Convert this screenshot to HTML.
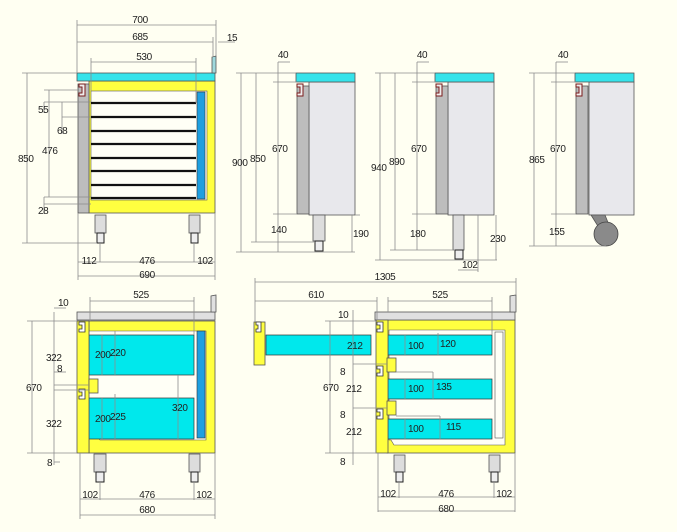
<!DOCTYPE html>
<html><head><meta charset="utf-8"><style>
html,body{margin:0;padding:0;background:#fffff2;}
svg{display:block}
text{font-family:"Liberation Sans",sans-serif;font-size:10px;fill:#222;letter-spacing:-0.4px}
.d{stroke:#8c8c8c;stroke-width:0.8;fill:none}
.o{stroke:#555;stroke-width:0.8}
</style></head><body>
<svg width="677" height="532" viewBox="0 0 677 532" xmlns="http://www.w3.org/2000/svg">
<rect width="677" height="532" fill="#fffff2"/>

<!-- ===== Drawing 1 (top-left) ===== -->
<rect x="89" y="81" width="126" height="132" fill="#ffff40" class="o"/>
<rect x="91" y="91" width="116" height="109" fill="#fffff6" stroke="#555" stroke-width="0.6"/>
<rect x="197" y="92" width="8" height="107" fill="#1e9fe0" stroke="#333" stroke-width="0.6"/>
<g stroke="#111" stroke-width="2.2">
<line x1="91" y1="103" x2="196" y2="103"/><line x1="91" y1="117" x2="196" y2="117"/>
<line x1="91" y1="131" x2="196" y2="131"/><line x1="91" y1="144" x2="196" y2="144"/>
<line x1="91" y1="158" x2="196" y2="158"/><line x1="91" y1="171" x2="196" y2="171"/>
<line x1="91" y1="185" x2="196" y2="185"/><line x1="91" y1="198" x2="196" y2="198"/>
</g>
<rect x="77" y="73" width="138" height="8" fill="#35e3ea" class="o"/>
<polygon points="212,73 212,57 216,56 216,73" fill="#9fd8dc" class="o"/>
<rect x="78" y="84" width="11" height="129" fill="#bdbdbd" class="o"/>
<path d="M79,84 h6 v12 h-6 v-3 h3 v-6 h-3z" fill="#eee" stroke="#7a1b1b" stroke-width="1"/>
<rect x="95" y="215" width="11" height="18" fill="#ddd" class="o"/><rect x="97" y="233" width="7" height="10" fill="#eee" stroke="#222" stroke-width="1"/>
<rect x="189" y="215" width="11" height="18" fill="#ddd" class="o"/><rect x="191" y="233" width="7" height="10" fill="#eee" stroke="#222" stroke-width="1"/>
<g class="d">
<line x1="77" y1="25" x2="216" y2="25"/><line x1="77" y1="20" x2="77" y2="73"/><line x1="216" y1="20" x2="216" y2="56"/>
<line x1="77" y1="42" x2="213" y2="42"/><line x1="213" y1="37" x2="213" y2="56"/><line x1="218" y1="42" x2="235" y2="42"/>
<line x1="91" y1="62" x2="196" y2="62"/><line x1="91" y1="58" x2="91" y2="91"/><line x1="196" y1="58" x2="196" y2="103"/>
<line x1="27" y1="73" x2="27" y2="243"/><line x1="22" y1="73" x2="77" y2="73"/><line x1="22" y1="243" x2="97" y2="243"/>
<line x1="49" y1="90" x2="49" y2="197"/><line x1="44" y1="90" x2="79" y2="90"/><line x1="44" y1="197" x2="91" y2="197"/>
<line x1="44" y1="102" x2="91" y2="102"/><line x1="44" y1="102" x2="44" y2="113"/>
<line x1="62" y1="102" x2="62" y2="134"/><line x1="62" y1="117" x2="91" y2="117"/>
<line x1="44" y1="204" x2="91" y2="204"/><line x1="44" y1="197" x2="44" y2="214"/>
<line x1="78" y1="213" x2="78" y2="280"/><line x1="215" y1="213" x2="215" y2="280"/>
<line x1="100" y1="243" x2="100" y2="262"/><line x1="194" y1="243" x2="194" y2="262"/>
<line x1="78" y1="262" x2="215" y2="262"/><line x1="78" y1="276" x2="215" y2="276"/>
</g>
<text x="140" y="23" text-anchor="middle">700</text>
<text x="140" y="40" text-anchor="middle">685</text>
<text x="232" y="41" text-anchor="middle">15</text>
<text x="144" y="60" text-anchor="middle">530</text>
<text x="18" y="162">850</text>
<text x="38" y="113">55</text>
<text x="57" y="134">68</text>
<text x="42" y="154">476</text>
<text x="38" y="214">28</text>
<text x="89" y="264" text-anchor="middle">112</text>
<text x="147" y="264" text-anchor="middle">476</text>
<text x="205" y="264" text-anchor="middle">102</text>
<text x="147" y="278" text-anchor="middle">690</text>

<!-- ===== Drawing 2 ===== -->
<rect x="309" y="82" width="46" height="133" fill="#e8e8ec" class="o"/>
<rect x="297" y="86" width="12" height="128" fill="#bdbdbd" class="o"/>
<path d="M297,84 h6 v12 h-6 v-3 h3 v-6 h-3z" fill="#eee" stroke="#7a1b1b" stroke-width="1"/>
<rect x="296" y="73" width="59" height="9" fill="#35e3ea" class="o"/>
<rect x="313" y="215" width="12" height="26" fill="#ddd" class="o"/><rect x="315" y="241" width="8" height="10" fill="#eee" stroke="#222" stroke-width="1"/>
<g class="d">
<line x1="241" y1="73" x2="241" y2="252"/><line x1="236" y1="73" x2="296" y2="73"/><line x1="236" y1="252" x2="355" y2="252"/>
<line x1="256" y1="73" x2="256" y2="242"/><line x1="251" y1="242" x2="315" y2="242"/>
<line x1="278" y1="82" x2="278" y2="252"/><line x1="273" y1="82" x2="297" y2="82"/><line x1="273" y1="214" x2="297" y2="214"/>
<line x1="278" y1="62" x2="278" y2="82"/><line x1="278" y1="62" x2="290" y2="62"/>
<line x1="352" y1="215" x2="352" y2="252"/><line x1="355" y1="215" x2="360" y2="215"/>
</g>
<text x="283" y="58" text-anchor="middle">40</text>
<text x="232" y="166">900</text>
<text x="250" y="162">850</text>
<text x="272" y="152">670</text>
<text x="271" y="233">140</text>
<text x="353" y="237">190</text>

<!-- ===== Drawing 3 ===== -->
<rect x="448" y="82" width="46" height="133" fill="#e8e8ec" class="o"/>
<rect x="436" y="86" width="12" height="128" fill="#bdbdbd" class="o"/>
<path d="M436,84 h6 v12 h-6 v-3 h3 v-6 h-3z" fill="#eee" stroke="#7a1b1b" stroke-width="1"/>
<rect x="435" y="73" width="59" height="9" fill="#35e3ea" class="o"/>
<rect x="453" y="215" width="11" height="35" fill="#ddd" class="o"/><rect x="455" y="250" width="8" height="9" fill="#eee" stroke="#222" stroke-width="1"/>
<g class="d">
<line x1="380" y1="73" x2="380" y2="260"/><line x1="375" y1="73" x2="435" y2="73"/><line x1="375" y1="260" x2="497" y2="260"/>
<line x1="395" y1="73" x2="395" y2="250"/><line x1="390" y1="250" x2="455" y2="250"/>
<line x1="417" y1="82" x2="417" y2="250"/><line x1="412" y1="82" x2="436" y2="82"/><line x1="412" y1="214" x2="436" y2="214"/>
<line x1="417" y1="62" x2="417" y2="82"/><line x1="417" y1="62" x2="429" y2="62"/>
<line x1="496" y1="215" x2="496" y2="260"/><line x1="478" y1="215" x2="478" y2="272"/>
<line x1="458" y1="270" x2="478" y2="270"/>
</g>
<text x="422" y="58" text-anchor="middle">40</text>
<text x="371" y="171">940</text>
<text x="389" y="165">890</text>
<text x="411" y="152">670</text>
<text x="410" y="237">180</text>
<text x="490" y="242">230</text>
<text x="462" y="268">102</text>

<!-- ===== Drawing 4 ===== -->
<rect x="589" y="82" width="45" height="133" fill="#e8e8ec" class="o"/>
<rect x="576" y="86" width="12" height="128" fill="#bdbdbd" class="o"/>
<path d="M576,84 h6 v12 h-6 v-3 h3 v-6 h-3z" fill="#eee" stroke="#7a1b1b" stroke-width="1"/>
<rect x="575" y="73" width="59" height="9" fill="#35e3ea" class="o"/>
<path d="M591,215 h14 l4,10 -8,6z" fill="#888" class="o"/>
<circle cx="606" cy="234" r="12" fill="#8a8a8a" stroke="#444" stroke-width="0.8"/>
<g class="d">
<line x1="534" y1="73" x2="534" y2="246"/><line x1="529" y1="73" x2="575" y2="73"/><line x1="529" y1="246" x2="606" y2="246"/>
<line x1="556" y1="82" x2="556" y2="246"/><line x1="551" y1="82" x2="576" y2="82"/><line x1="551" y1="214" x2="576" y2="214"/>
<line x1="556" y1="62" x2="556" y2="82"/><line x1="556" y1="62" x2="568" y2="62"/>
</g>
<text x="563" y="58" text-anchor="middle">40</text>
<text x="529" y="163">865</text>
<text x="550" y="152">670</text>
<text x="549" y="235">155</text>

<!-- ===== Drawing 5 (bottom-left) ===== -->
<rect x="89" y="321" width="126" height="132" fill="#ffff40" class="o"/>
<path d="M89,331 h117 v109 h-106 l-3,-4 h-8z" fill="#fffff6" stroke="#555" stroke-width="0.6"/>
<rect x="89" y="335" width="105" height="40" fill="#00e8ec" stroke="#333" stroke-width="0.7"/>
<rect x="89" y="398" width="105" height="41" fill="#00e8ec" stroke="#333" stroke-width="0.7"/>
<rect x="197" y="331" width="8" height="107" fill="#1e9fe0" stroke="#333" stroke-width="0.6"/>
<rect x="77" y="312" width="138" height="8" fill="#e0e0e0" class="o"/>
<polygon points="211,312 211,296 216,295 216,312" fill="#e0e0e0" class="o"/>
<rect x="77" y="321" width="12" height="132" fill="#ffff40" class="o"/>
<rect x="89" y="379" width="9" height="14" fill="#ffff40" class="o"/>
<path d="M79,322 h6 v10 h-6 v-3 h3 v-4 h-3z M79,389 h6 v10 h-6 v-3 h3 v-4 h-3z" fill="#fff" stroke="#333" stroke-width="0.8"/>
<rect x="94" y="454" width="12" height="18" fill="#ddd" class="o"/><rect x="96" y="472" width="8" height="10" fill="#eee" stroke="#222" stroke-width="1"/>
<rect x="189" y="454" width="11" height="18" fill="#ddd" class="o"/><rect x="191" y="472" width="7" height="10" fill="#eee" stroke="#222" stroke-width="1"/>
<g class="d">
<line x1="90" y1="301" x2="194" y2="301"/><line x1="90" y1="297" x2="90" y2="321"/><line x1="194" y1="297" x2="194" y2="335"/>
<line x1="32" y1="321" x2="32" y2="453"/><line x1="27" y1="321" x2="77" y2="321"/><line x1="27" y1="453" x2="77" y2="453"/>
<line x1="54" y1="312" x2="54" y2="465"/><line x1="54" y1="308" x2="66" y2="308"/><line x1="54" y1="390" x2="89" y2="390"/><line x1="54" y1="385" x2="89" y2="385"/>
<line x1="54" y1="372" x2="66" y2="372"/><line x1="54" y1="462" x2="60" y2="462"/>
<line x1="102" y1="335" x2="102" y2="375"/><line x1="115" y1="331" x2="115" y2="375"/>
<line x1="102" y1="398" x2="102" y2="439"/><line x1="115" y1="394" x2="115" y2="439"/>
<line x1="178" y1="375" x2="178" y2="439"/>
<line x1="80" y1="453" x2="80" y2="519"/><line x1="215" y1="453" x2="215" y2="519"/>
<line x1="100" y1="482" x2="100" y2="500"/><line x1="194" y1="482" x2="194" y2="500"/>
<line x1="80" y1="499" x2="215" y2="499"/><line x1="80" y1="515" x2="215" y2="515"/>
</g>
<text x="141" y="298" text-anchor="middle">525</text>
<text x="58" y="306">10</text>
<text x="26" y="391">670</text>
<text x="46" y="361">322</text>
<text x="57" y="372">8</text>
<text x="46" y="427">322</text>
<text x="47" y="466">8</text>
<text x="95" y="358">200</text><text x="110" y="356">220</text>
<text x="95" y="422">200</text><text x="110" y="420">225</text>
<text x="172" y="411">320</text>
<text x="90" y="498" text-anchor="middle">102</text>
<text x="147" y="498" text-anchor="middle">476</text>
<text x="204" y="498" text-anchor="middle">102</text>
<text x="147" y="513" text-anchor="middle">680</text>

<!-- ===== Drawing 6 (bottom-right) ===== -->
<rect x="387" y="320" width="128" height="133" fill="#ffff40" class="o"/>
<path d="M389,330 h116 v115 h-111 l-3,-5 h-2z" fill="#fffff6" stroke="#555" stroke-width="0.6"/>
<rect x="495" y="332" width="8" height="106" fill="#fffff6" stroke="#555" stroke-width="0.6"/>
<rect x="388" y="335" width="104" height="20" fill="#00e8ec" stroke="#333" stroke-width="0.7"/>
<rect x="388" y="379" width="104" height="20" fill="#00e8ec" stroke="#333" stroke-width="0.7"/>
<rect x="388" y="419" width="104" height="20" fill="#00e8ec" stroke="#333" stroke-width="0.7"/>
<rect x="375" y="312" width="140" height="8" fill="#e0e0e0" class="o"/>
<polygon points="510,312 510,296 516,295 516,312" fill="#e0e0e0" class="o"/>
<rect x="376" y="320" width="12" height="133" fill="#ffff40" class="o"/>
<rect x="387" y="358" width="9" height="14" fill="#ffff40" class="o"/>
<rect x="387" y="401" width="9" height="14" fill="#ffff40" class="o"/>
<path d="M377,322 h6 v10 h-6 v-3 h3 v-4 h-3z M377,366 h6 v10 h-6 v-3 h3 v-4 h-3z M377,409 h6 v10 h-6 v-3 h3 v-4 h-3z" fill="#fff" stroke="#333" stroke-width="0.8"/>
<rect x="254" y="322" width="11" height="43" fill="#ffff40" class="o"/>
<path d="M256,322 h5 v10 h-5 v-3 h2 v-4 h-2z" fill="#fff" stroke="#333" stroke-width="0.8"/>
<rect x="266" y="335" width="105" height="20" fill="#00e8ec" stroke="#333" stroke-width="0.7"/>
<rect x="394" y="455" width="11" height="17" fill="#ddd" class="o"/><rect x="396" y="472" width="7" height="10" fill="#eee" stroke="#222" stroke-width="1"/>
<rect x="489" y="455" width="11" height="17" fill="#ddd" class="o"/><rect x="491" y="472" width="7" height="10" fill="#eee" stroke="#222" stroke-width="1"/>
<g class="d">
<line x1="255" y1="282" x2="516" y2="282"/><line x1="255" y1="278" x2="255" y2="322"/><line x1="516" y1="278" x2="516" y2="295"/>
<line x1="255" y1="301" x2="377" y2="301"/><line x1="377" y1="297" x2="377" y2="320"/>
<line x1="388" y1="301" x2="492" y2="301"/><line x1="388" y1="297" x2="388" y2="312"/><line x1="492" y1="297" x2="492" y2="335"/>
<line x1="330" y1="321" x2="330" y2="453"/><line x1="325" y1="321" x2="377" y2="321"/><line x1="325" y1="453" x2="377" y2="453"/>
<line x1="353" y1="310" x2="353" y2="465"/><line x1="353" y1="364" x2="387" y2="364"/><line x1="353" y1="408" x2="387" y2="408"/>
<line x1="405" y1="335" x2="405" y2="355"/><line x1="405" y1="379" x2="405" y2="399"/><line x1="405" y1="419" x2="405" y2="439"/>
<line x1="438" y1="333" x2="438" y2="355"/><line x1="433" y1="372" x2="433" y2="399"/><line x1="440" y1="416" x2="440" y2="439"/>
<line x1="396" y1="372" x2="433" y2="372"/><line x1="396" y1="416" x2="440" y2="416"/>
<line x1="378" y1="453" x2="378" y2="512"/><line x1="515" y1="453" x2="515" y2="512"/>
<line x1="399" y1="482" x2="399" y2="498"/><line x1="494" y1="482" x2="494" y2="498"/>
<line x1="378" y1="497" x2="515" y2="497"/><line x1="378" y1="511" x2="515" y2="511"/>
</g>
<text x="385" y="280" text-anchor="middle">1305</text>
<text x="316" y="298" text-anchor="middle">610</text>
<text x="440" y="298" text-anchor="middle">525</text>
<text x="338" y="318">10</text>
<text x="347" y="349">212</text>
<text x="323" y="391">670</text>
<text x="340" y="375">8</text>
<text x="346" y="392">212</text>
<text x="340" y="418">8</text>
<text x="346" y="435">212</text>
<text x="340" y="465">8</text>
<text x="408" y="349">100</text><text x="440" y="347">120</text>
<text x="408" y="392">100</text><text x="436" y="390">135</text>
<text x="408" y="432">100</text><text x="446" y="430">115</text>
<text x="388" y="497" text-anchor="middle">102</text>
<text x="446" y="497" text-anchor="middle">476</text>
<text x="504" y="497" text-anchor="middle">102</text>
<text x="446" y="512" text-anchor="middle">680</text>
</svg>
</body></html>
